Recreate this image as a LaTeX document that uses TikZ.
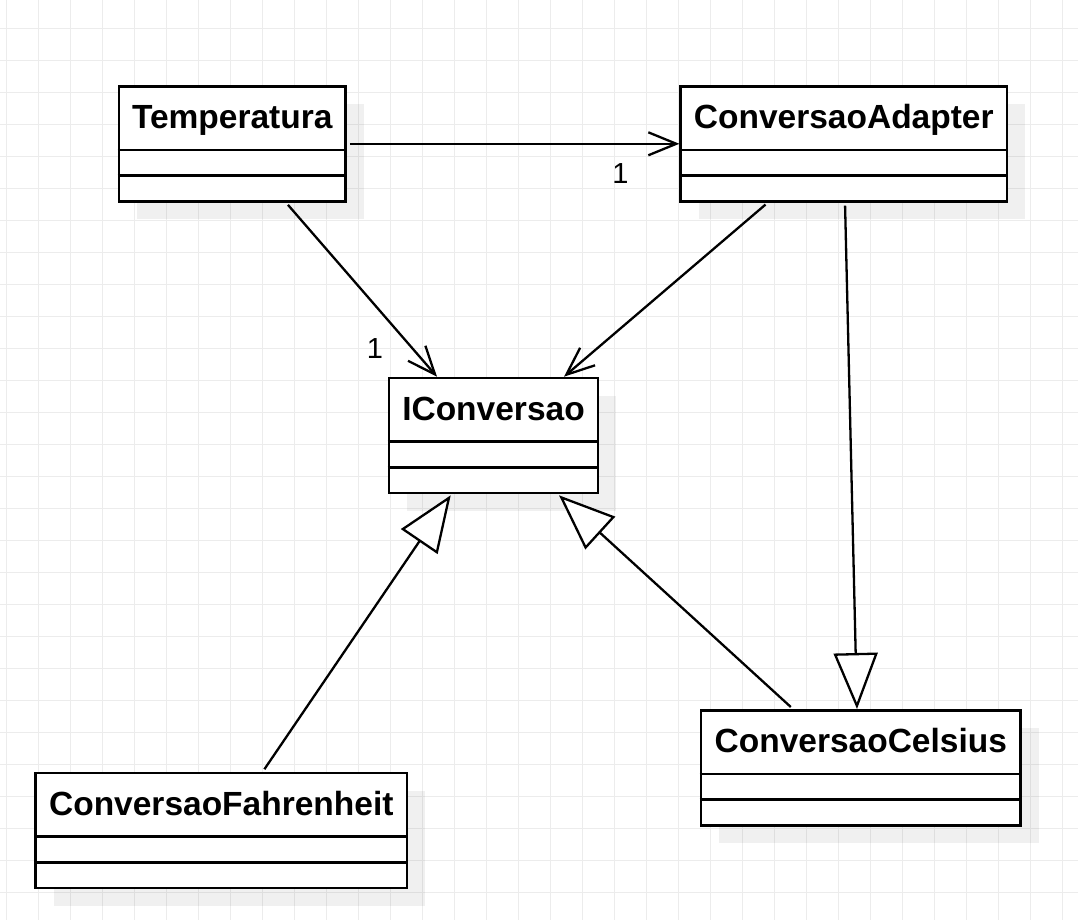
\documentclass[tikz,border=0pt]{standalone}
\usepackage{fontspec}
\setmainfont{Liberation Sans}
\usetikzlibrary{arrows.meta,calc,shadows}
\definecolor{gridcol}{RGB}{236,236,236}
\tikzset{
  cls/.style={draw=black, line width=2.6pt, fill=white, rectangle, inner sep=0pt,
    drop shadow={shadow xshift=18pt, shadow yshift=-18pt, fill=black, opacity=0.06}},
  hdr/.style={font=\fontsize{33.5}{40}\selectfont\bfseries, inner sep=0pt, anchor=base},
  mult/.style={font=\fontsize{29}{34}\selectfont, inner sep=0pt},
  divider/.style={line width=2.6pt},
  assoc/.style={line width=2.3pt, shorten <=3pt, -{Straight Barb[length=28pt,width=23pt,line width=2.3pt]}},
  gener/.style={line width=2.3pt, shorten <=3pt, -{Triangle[length=56pt,width=44pt,line width=2.3pt,fill=white]}},
}
\newcommand\umlclass[5]{%
  \node[cls, minimum width=#4pt, minimum height=115pt, anchor=north] (#1) at (#2,#3) {};
  \node[hdr] (#1-t) at ($(#1.north)+(0,43.5)$) {#5};
  \draw[divider] ($(#1.north west)+(0,65)$) -- ($(#1.north east)+(0,65)$);
  \draw[divider] ($(#1.north west)+(0,90.5)$) -- ($(#1.north east)+(0,90.5)$);
}
\begin{document}
\begin{tikzpicture}[x=1pt,y=-1pt]
\useasboundingbox (0,0) rectangle (1078,920);
\fill[white] (0,0) rectangle (1078,920);
% grid
\foreach \i in {0,...,33} {
  \draw[gridcol, line width=1pt] ({6.3+32*\i},0) -- ({6.3+32*\i},920);
}
\foreach \j in {0,...,28} {
  \draw[gridcol, line width=1pt] (0,{28.3+32*\j}) -- (1078,{28.3+32*\j});
}
% classes
\umlclass{temp}{232.3}{85}{226.7}{Temperatura}
\umlclass{adapt}{843.8}{85}{326.3}{ConversaoAdapter}
\umlclass{iconv}{493.5}{376.7}{209}{IConversao}
\umlclass{cel}{860.8}{709}{319.7}{ConversaoCelsius}
\umlclass{fahr}{221.3}{771.7}{371.3}{ConversaoFahrenheit}
% connectors
\draw[assoc] (temp.east) -- (adapt.west);
\node[mult] (m1) at ($(adapt.west)+(-59,29.5)$) {1};
\draw[assoc] ($(temp.south)+(53.7,0)$) -- ($(iconv.north)+(-56.5,0)$);
\node[mult] (m2) at ($(iconv.north)+(-118.5,-28.5)$) {1};
\draw[assoc] ($(adapt.south)+(-76,0)$) -- ($(iconv.north)+(70.5,0)$);
\draw[gener] ($(adapt.south)+(1.2,0)$) -- ($(cel.north)+(-3.8,0)$);
\draw[gener] ($(fahr.north)+(41.4,0)$) -- ($(iconv.south)+(-42.8,1)$);
\draw[gener] ($(cel.north)+(-67.8,0)$) -- ($(iconv.south)+(65.5,1)$);
\end{tikzpicture}
\end{document}
